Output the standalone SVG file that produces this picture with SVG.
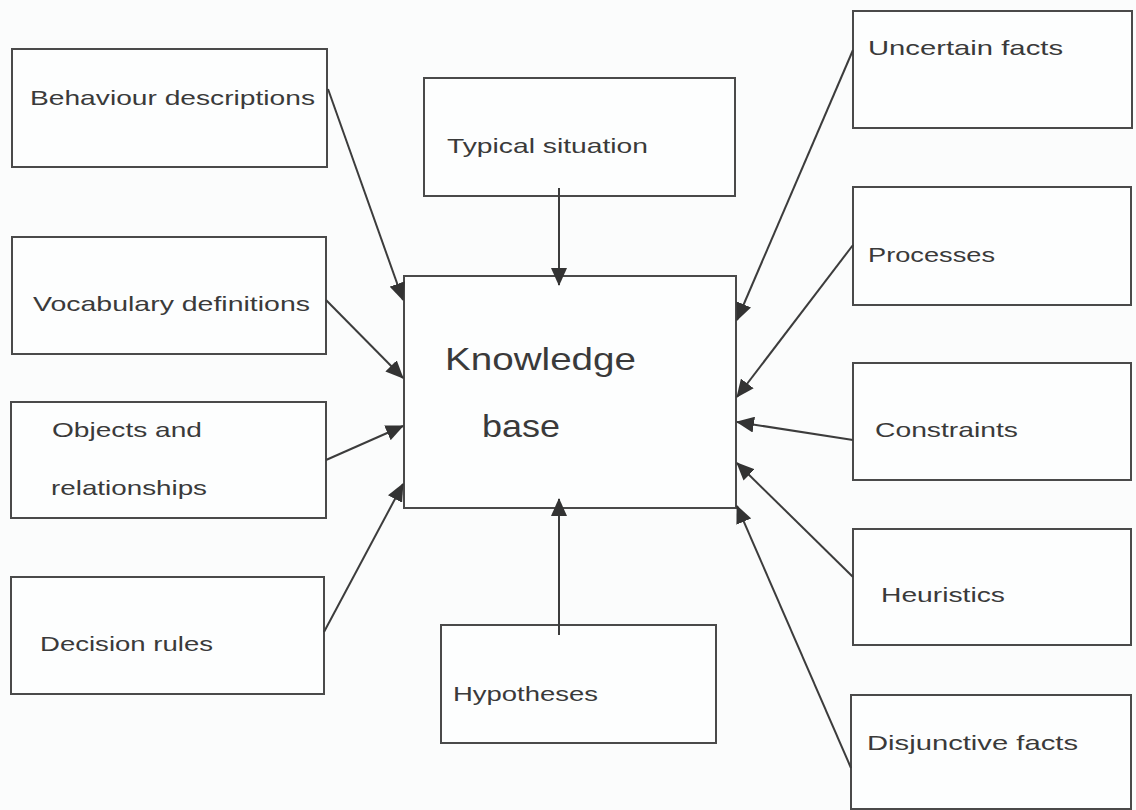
<svg xmlns="http://www.w3.org/2000/svg" width="1136" height="810" viewBox="0 0 1136 810">
<defs>
<style>
.box{fill:#fdfefe;stroke:#4a4a4a;stroke-width:2}
.t{font-family:"Liberation Sans",Arial,sans-serif;font-size:21px;fill:#3a3a3a}
.big{font-family:"Liberation Sans",Arial,sans-serif;font-size:32px;fill:#3a3a3a}
.c{stroke:#3c3c3c;stroke-width:2;fill:none;marker-end:url(#ah)}
</style>
<marker id="ah" markerUnits="userSpaceOnUse" markerWidth="18" markerHeight="16" refX="17" refY="8" orient="auto">
<path d="M0,0 L18,8 L0,16 Z" fill="#333"/>
</marker>
</defs>
<rect width="1136" height="810" fill="#fbfcfc"/>
<g id="kb">
<rect class="box" x="404" y="276" width="332" height="232"/>
<text class="big" x="445" y="370" textLength="191" lengthAdjust="spacingAndGlyphs">Knowledge</text>
<text class="big" x="482" y="437" textLength="78" lengthAdjust="spacingAndGlyphs">base</text>
</g>
<g id="behaviour">
<rect class="box" x="12" y="49" width="315" height="118"/>
<text class="t" x="30" y="105" textLength="285" lengthAdjust="spacingAndGlyphs">Behaviour descriptions</text>
</g>
<g id="vocabulary">
<rect class="box" x="12" y="237" width="314" height="117"/>
<text class="t" x="33" y="311" textLength="277" lengthAdjust="spacingAndGlyphs">Vocabulary definitions</text>
</g>
<g id="objects">
<rect class="box" x="11" y="402" width="315" height="116"/>
<text class="t" x="52" y="437" textLength="150" lengthAdjust="spacingAndGlyphs">Objects and</text>
<text class="t" x="51" y="495" textLength="156" lengthAdjust="spacingAndGlyphs">relationships</text>
</g>
<g id="decision">
<rect class="box" x="11" y="577" width="313" height="117"/>
<text class="t" x="40" y="651" textLength="173" lengthAdjust="spacingAndGlyphs">Decision rules</text>
</g>
<g id="typical">
<rect class="box" x="424" y="78" width="311" height="118"/>
<text class="t" x="447" y="153" textLength="201" lengthAdjust="spacingAndGlyphs">Typical situation</text>
</g>
<g id="hypotheses">
<rect class="box" x="441" y="625" width="275" height="118"/>
<text class="t" x="453" y="701" textLength="145" lengthAdjust="spacingAndGlyphs">Hypotheses</text>
</g>
<g id="uncertain">
<rect class="box" x="853" y="11" width="279" height="117"/>
<text class="t" x="868" y="55" textLength="195" lengthAdjust="spacingAndGlyphs">Uncertain facts</text>
</g>
<g id="processes">
<rect class="box" x="853" y="187" width="278" height="118"/>
<text class="t" x="868" y="262" textLength="127" lengthAdjust="spacingAndGlyphs">Processes</text>
</g>
<g id="constraints">
<rect class="box" x="853" y="363" width="278" height="117"/>
<text class="t" x="875" y="437" textLength="143" lengthAdjust="spacingAndGlyphs">Constraints</text>
</g>
<g id="heuristics">
<rect class="box" x="853" y="529" width="278" height="116"/>
<text class="t" x="881" y="602" textLength="124" lengthAdjust="spacingAndGlyphs">Heuristics</text>
</g>
<g id="disjunctive">
<rect class="box" x="851" y="695" width="280" height="114"/>
<text class="t" x="867" y="750" textLength="211" lengthAdjust="spacingAndGlyphs">Disjunctive facts</text>
</g>
<g id="connectors">
<line class="c" x1="328" y1="89" x2="403" y2="300"/>
<line class="c" x1="326" y1="300" x2="403" y2="378"/>
<line class="c" x1="326" y1="460" x2="403" y2="426"/>
<line class="c" x1="324" y1="632" x2="403" y2="484"/>
<line class="c" x1="559" y1="188" x2="559" y2="285"/>
<line class="c" x1="559" y1="635" x2="559" y2="499"/>
<line class="c" x1="853" y1="50" x2="737" y2="320"/>
<line class="c" x1="853" y1="245" x2="737" y2="397"/>
<line class="c" x1="853" y1="440" x2="737" y2="422"/>
<line class="c" x1="853" y1="577" x2="737" y2="463"/>
<line class="c" x1="851" y1="768" x2="737" y2="506"/>
</g>
</svg>
